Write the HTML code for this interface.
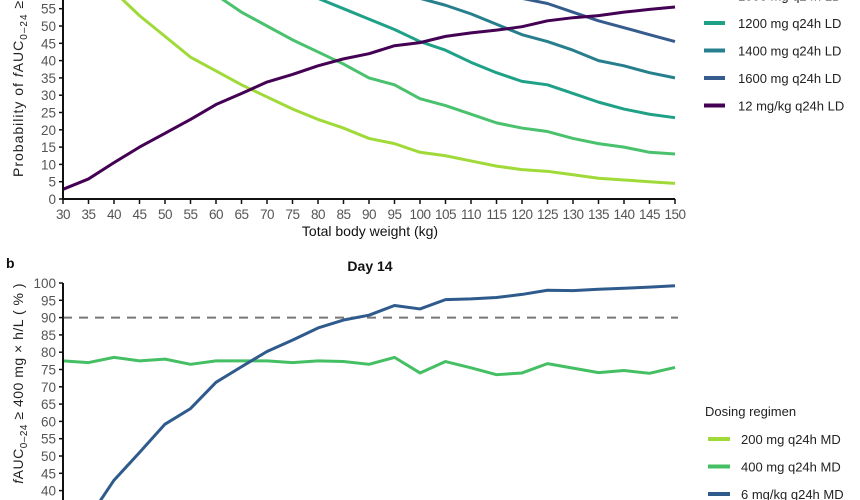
<!DOCTYPE html>
<html><head><meta charset="utf-8"><style>
html,body{margin:0;padding:0;background:#fff;width:860px;height:500px;overflow:hidden}
svg{display:block;font-family:"Liberation Sans",Arial,sans-serif;overflow:hidden}
.tk{font-size:13.5px;fill:#555}
.lg{font-size:13px;fill:#222}
</style></head><body>
<svg id="c" width="860" height="500" viewBox="0 0 860 500"></svg>
<script>
const weights=[30,35,40,45,50,55,60,65,70,75,80,85,90,95,100,105,110,115,120,125,130,135,140,145,150];
const topLabels=["800 mg q24h  LD","1000 mg q24h  LD","1200 mg q24h  LD","1400 mg q24h  LD","1600 mg q24h  LD","12 mg/kg q24h LD"];
const topColors=["#a0da39","#4ac16d","#1fa187","#277f8e","#365c8d","#440154"];
const s800=[78,70,60,53,47,41,37,33,29.5,26,23,20.5,17.5,16,13.5,12.5,11,9.5,8.5,8,7,6,5.5,5,4.5];
const s1000=[95,90,85,78,72,66,59,54,50,46,42.5,39,35,33,29,27,24.5,22,20.5,19.5,17.5,16,15,13.5,13];
const s1200=[99,98,96,92,88,83,78,72,67,62,58,55,52,49,45.5,43,39.5,36.5,34,33,30.5,28,26,24.5,23.5];
const s1400=[100,99,98,97,95,92,89,85,80,75,70,65,62,60,58,56,53.5,50.5,47.5,45.5,43,40,38.5,36.5,35];
const s1600=[100,100,99,98,97,96,94,91,87,83,79,75,71,67,64,62,60,59,58,56.5,54,51.5,49.5,47.5,45.5];
const s12=[2.8,5.8,10.5,15,19,23,27.3,30.5,33.8,36,38.5,40.5,42,44.3,45.2,47,48,48.8,49.8,51.5,52.4,53,54,54.8,55.5];
const topSeries=[s800,s1000,s1200,s1400,s1600,s12];
const topTicks=[0,5,10,15,20,25,30,35,40,45,50,55];
const botLabels=["200 mg  q24h MD","400 mg  q24h MD","6 mg/kg q24h MD"];
const botColors=["#a0da39","#45bf63","#2f5a8c"];
const b200=[20,20,19,19,18,18,17,17,16,16,15,15,14,14,13,13,12,12,12,11,11,11,10,10,10];
const b400=[77.5,77,78.5,77.5,78,76.5,77.5,77.5,77.5,77,77.5,77.3,76.5,78.5,74,77.3,75.5,73.5,74,76.7,75.4,74.1,74.7,73.9,75.6];
const b6=[24,32,43,51,59.2,63.7,71.3,75.8,80.2,83.5,87,89.3,90.7,93.5,92.5,95.2,95.4,95.8,96.7,97.9,97.8,98.2,98.5,98.8,99.2];
const botSeries=[b200,b400,b6];
const botTicks=[40,45,50,55,60,65,70,75,80,85,90,95,100];
const threshold=90;

const NS="http://www.w3.org/2000/svg";
const svg=document.getElementById('c');
function mk(tag,attrs,parent){const e=document.createElementNS(NS,tag);for(const k in attrs)e.setAttribute(k,attrs[k]);(parent||svg).appendChild(e);return e;}
const x=w=>63+(w-30)*5.1;
const yT=v=>199-v*3.46;
const yB=v=>283+(100-v)*3.46;

const gT=mk('g',{});


topSeries.forEach((s,i)=>{
  const p=mk('polyline',{points:s.map((v,j)=>x(weights[j])+','+yT(v)).join(' '),fill:'none',stroke:topColors[i],'stroke-width':3,'stroke-linejoin':'round'},gT);
  
  
});
const axT=mk('path',{d:'M63 0V199H675',fill:'none',stroke:'#111','stroke-width':2},gT);


topTicks.forEach(t=>{
  mk('line',{x1:59,x2:63,y1:yT(t),y2:yT(t),stroke:'#111','stroke-width':1.5},gT);
  const tx=mk('text',{x:56,y:yT(t)+5,'text-anchor':'end',class:'tk'},gT);tx.textContent=t;
  
  
});
weights.forEach(w=>{
  mk('line',{x1:x(w),x2:x(w),y1:199,y2:204,stroke:'#111','stroke-width':1.5},gT);
  const tx=mk('text',{x:x(w),y:219,'text-anchor':'middle',class:'tk','letter-spacing':'-0.5'},gT);tx.textContent=w;
  
  
});
const xt=mk('text',{x:370,y:236,'text-anchor':'middle','font-size':'14',fill:'#111'},gT);xt.textContent='Total body weight (kg)';


const yl=mk('text',{transform:'translate(23,177) rotate(-90)','font-size':'14',fill:'#222','letter-spacing':'1'},gT);
yl.innerHTML='Probability  of  <tspan font-style="italic">f</tspan>AUC<tspan font-size="10" dy="4">0–24</tspan><tspan dy="-4">   ≥</tspan>';


topLabels.forEach((l,i)=>{
  const yy=-32+i*27.5;
  const g=mk('g',{},gT);
  
  
  mk('line',{x1:704,x2:725,y1:yy,y2:yy,stroke:topColors[i],'stroke-width':4},g);
  const t=mk('text',{x:738,y:yy+5,class:'lg'},g);t.textContent=l;
});

const gB=mk('g',{});


const pl=mk('text',{x:6,y:268,'font-size':'14','font-weight':'bold',fill:'#111'},gB);pl.textContent='b';


const ti=mk('text',{x:370,y:271,'text-anchor':'middle','font-size':'14','font-weight':'bold',fill:'#111'},gB);ti.textContent='Day 14';


const dl=mk('line',{x1:63,x2:678,y1:yB(threshold),y2:yB(threshold),stroke:'#777','stroke-width':2,'stroke-dasharray':'9,7'},gB);


botSeries.forEach((s,i)=>{
  const p=mk('polyline',{points:s.map((v,j)=>x(weights[j])+','+yB(v)).join(' '),fill:'none',stroke:botColors[i],'stroke-width':3,'stroke-linejoin':'round'},gB);
  
  
});
const axB=mk('path',{d:'M63 283V500',fill:'none',stroke:'#111','stroke-width':2},gB);


botTicks.forEach(t=>{
  mk('line',{x1:59,x2:63,y1:yB(t),y2:yB(t),stroke:'#111','stroke-width':1.5},gB);
  const tx=mk('text',{x:56,y:yB(t)+5,'text-anchor':'end',class:'tk'},gB);tx.textContent=t;
  
  
});
const yl2=mk('text',{transform:'translate(23,283) rotate(-90)','text-anchor':'end','font-size':'14',fill:'#222','letter-spacing':'0.5'},gB);
yl2.innerHTML='<tspan font-style="italic">f</tspan>AUC<tspan font-size="10" dy="4">0–24</tspan><tspan dy="-4">   ≥ 400 mg × h/L  ( % )</tspan>';


const lt=mk('text',{x:705,y:416,class:'lg'},gB);lt.textContent='Dosing regimen';


botLabels.forEach((l,i)=>{
  const yy=439+i*27.5;
  const g=mk('g',{},gB);
  
  
  mk('line',{x1:708,x2:730,y1:yy,y2:yy,stroke:botColors[i],'stroke-width':4},g);
  const t=mk('text',{x:741,y:yy+5,class:'lg'},g);t.textContent=l;
});
</script>
</body></html>
